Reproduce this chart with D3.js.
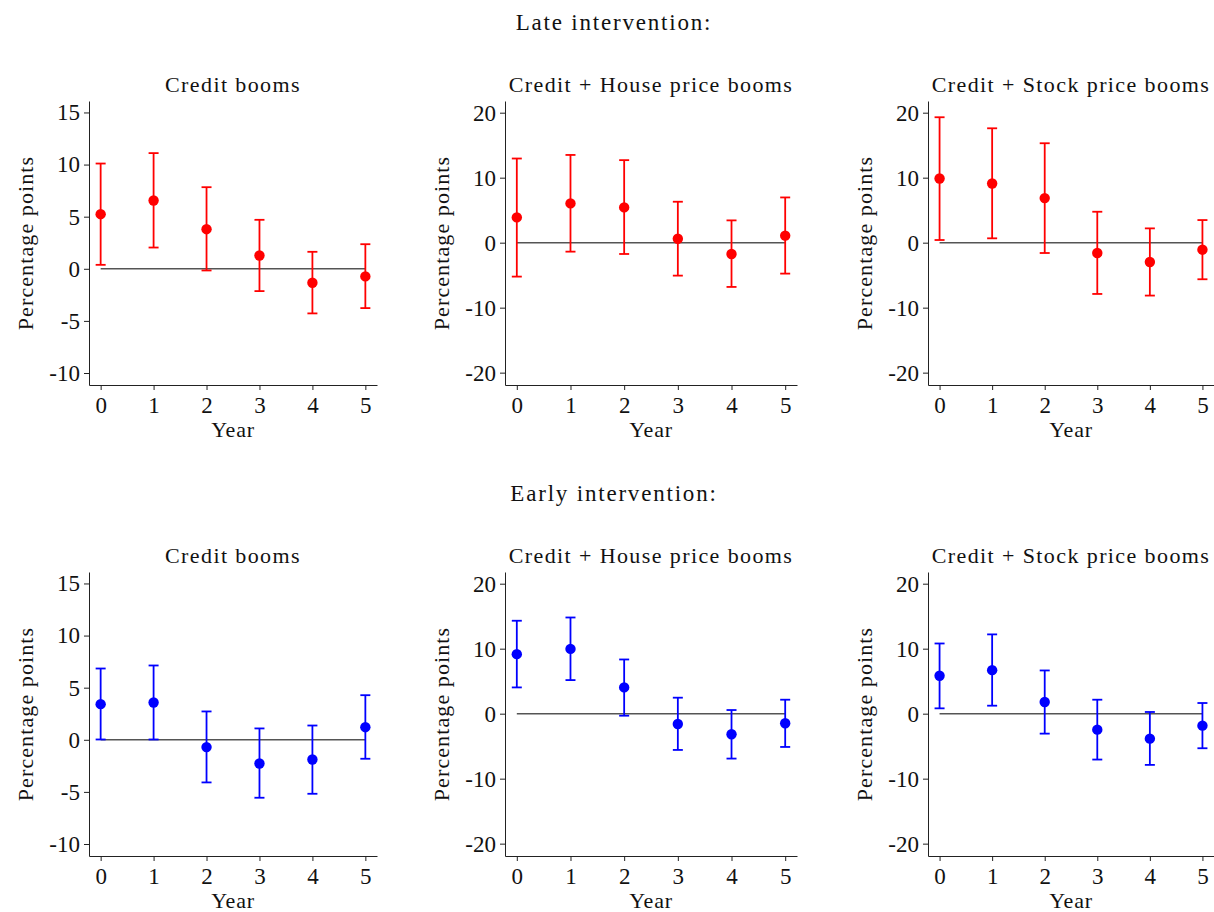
<!DOCTYPE html>
<html>
<head>
<meta charset="utf-8">
<script src="https://cdn.jsdelivr.net/npm/d3@7"></script>
<style>
  body { margin: 0; background: #fff; }
  text { font-family: "Liberation Serif", "DejaVu Serif", serif; fill: #111; }
</style>
</head>
<body>
<svg id="chart"></svg>
<script>
// years on x axis
years = [0, 1, 2, 3, 4, 5]

rowTitles = ['Late intervention:', 'Early intervention:']
panelTitles = ['Credit booms', 'Credit + House price booms', 'Credit + Stock price booms']

// late intervention (red): estimate, lower, upper
lateCredit      = [5.24, 6.55, 3.80, 1.28, -1.34, -0.73]
lateCreditLo    = [0.38, 2.04, -0.16, -2.14, -4.28, -3.77]
lateCreditHi    = [10.1, 11.1, 7.83, 4.70, 1.63, 2.36]

lateHouse       = [3.89, 6.04, 5.43, 0.61, -1.74, 1.08]
lateHouseLo     = [-5.22, -1.38, -1.74, -5.07, -6.81, -4.76]
lateHouseHi     = [12.95, 13.5, 12.7, 6.30, 3.43, 6.96]

lateStock       = [9.88, 9.11, 6.86, -1.59, -2.97, -1.08]
lateStockLo     = [0.41, 0.67, -1.59, -7.89, -8.14, -5.63]
lateStockHi     = [19.3, 17.6, 15.3, 4.76, 2.20, 3.48]

// early intervention (blue)
earlyCredit     = [3.42, 3.58, -0.70, -2.27, -1.89, 1.21]
earlyCreditLo   = [0.03, 0.03, -4.09, -5.56, -5.18, -1.82]
earlyCreditHi   = [6.84, 7.13, 2.72, 1.09, 1.37, 4.28]

earlyHouse      = [9.16, 9.97, 4.04, -1.59, -3.17, -1.48]
earlyHouseLo    = [4.04, 5.17, -0.31, -5.58, -6.91, -5.12]
earlyHouseHi    = [14.3, 14.8, 8.34, 2.46, 0.56, 2.15]

earlyStock      = [5.83, 6.70, 1.79, -2.46, -3.84, -1.84]
earlyStockLo    = [0.82, 1.23, -3.07, -7.06, -7.88, -5.32]
earlyStockHi    = [10.8, 12.2, 6.65, 2.15, 0.26, 1.64]

creditTicks = [-10, -5, 0, 5, 10, 15]
comboTicks = [-20, -10, 0, 10, 20]

const width = 1214, height = 912

const svg = d3.select('#chart').attr('width', width).attr('height', height)

// panel layout
const cols = [{x: 89, w: 288}, {x: 505, w: 292}, {x: 928, w: 286}]
const rows = [{y: 101, h: 284, color: '#ff0000', titleY: 30}, {y: 572, h: 284, color: '#0000ff', titleY: 501}]

const panels = [
  {row: 0, col: 0, est: lateCredit, lo: lateCreditLo, hi: lateCreditHi, dom: [-11.15, 16.1], ticks: creditTicks},
  {row: 0, col: 1, est: lateHouse, lo: lateHouseLo, hi: lateHouseHi, dom: [-21.9, 21.8], ticks: comboTicks},
  {row: 0, col: 2, est: lateStock, lo: lateStockLo, hi: lateStockHi, dom: [-21.9, 21.8], ticks: comboTicks},
  {row: 1, col: 0, est: earlyCredit, lo: earlyCreditLo, hi: earlyCreditHi, dom: [-11.15, 16.1], ticks: creditTicks},
  {row: 1, col: 1, est: earlyHouse, lo: earlyHouseLo, hi: earlyHouseHi, dom: [-21.9, 21.8], ticks: comboTicks},
  {row: 1, col: 2, est: earlyStock, lo: earlyStockLo, hi: earlyStockHi, dom: [-21.9, 21.8], ticks: comboTicks}
]

rowTitles.forEach((t, i) => {
  svg.append('text')
    .attr('x', 614).attr('y', rows[i].titleY)
    .attr('text-anchor', 'middle')
    .style('font-size', '23px')
    .style('letter-spacing', '1.8px')
    .text(t)
})

panels.forEach(p => {
  const c = cols[p.col], r = rows[p.row]
  const g = svg.append('g').attr('transform', `translate(${c.x},${r.y})`)

  const x = d3.scaleLinear().domain([-0.22, 5.22]).range([0, c.w])
  const y = d3.scaleLinear().domain(p.dom).range([r.h, 0])

  const yAxis = g.append('g')
    .call(d3.axisLeft(y).tickValues(p.ticks).tickFormat(d => String(d))
      .tickSize(5).tickPadding(4).tickSizeOuter(0))
  const xAxis = g.append('g')
    .attr('transform', `translate(0,${r.h})`)
    .call(d3.axisBottom(x).tickValues(years).tickFormat(d => String(d))
      .tickSize(5).tickPadding(7).tickSizeOuter(0))

  ;[yAxis, xAxis].forEach(a => {
    a.selectAll('path, line').attr('stroke', '#222').attr('stroke-width', 1)
    a.selectAll('text')
      .style('font-family', '"Liberation Serif", serif')
      .style('font-size', '23px')
      .attr('fill', '#111')
  })

  // zero line
  g.append('line')
    .attr('x1', x(0)).attr('x2', x(5))
    .attr('y1', y(0)).attr('y2', y(0))
    .attr('stroke', '#555').attr('stroke-width', 1.5)

  const data = years.map((yr, i) => ({yr, est: p.est[i], lo: p.lo[i], hi: p.hi[i]}))

  g.selectAll('.bar').data(data).enter().append('line')
    .attr('x1', d => x(d.yr)).attr('x2', d => x(d.yr))
    .attr('y1', d => y(d.lo)).attr('y2', d => y(d.hi))
    .attr('stroke', r.color).attr('stroke-width', 1.8)

  const cap = 5
  ;['lo', 'hi'].forEach(k => {
    g.selectAll('.cap' + k).data(data).enter().append('line')
      .attr('x1', d => x(d.yr) - cap).attr('x2', d => x(d.yr) + cap)
      .attr('y1', d => y(d[k])).attr('y2', d => y(d[k]))
      .attr('stroke', r.color).attr('stroke-width', 1.8)
  })

  g.selectAll('.pt').data(data).enter().append('circle')
    .attr('cx', d => x(d.yr)).attr('cy', d => y(d.est))
    .attr('r', 5.2).attr('fill', r.color)

  // titles
  g.append('text')
    .attr('x', c.w / 2).attr('y', -9)
    .attr('text-anchor', 'middle')
    .style('font-size', '22px')
    .style('letter-spacing', '1.4px')
    .text(panelTitles[p.col])

  g.append('text')
    .attr('x', x(2.5)).attr('y', r.h + 52)
    .attr('text-anchor', 'middle')
    .style('font-size', '22px')
    .style('letter-spacing', '0.8px')
    .text('Year')

  g.append('text')
    .attr('transform', `translate(-56,${r.h / 2}) rotate(-90)`)
    .attr('text-anchor', 'middle')
    .style('font-size', '22px')
    .style('letter-spacing', '1.1px')
    .text('Percentage points')
})
</script>
</body>
</html>
